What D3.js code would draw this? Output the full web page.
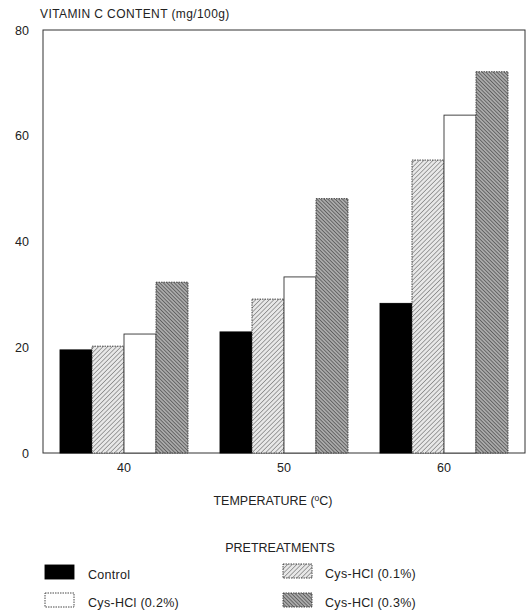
<!DOCTYPE html>
<html>
<head>
<meta charset="utf-8">
<script src="https://cdn.jsdelivr.net/npm/d3@7"></script>
<style>
body { margin: 0; background: #fff; }
text { font-family: "Liberation Sans", Arial, sans-serif; fill: #222; }
</style>
</head>
<body>
<svg id="chart" width="530" height="611"></svg>
<script>
const temperatures = ["40", "50", "60"];
const treatments = ["Control", "Cys-HCl (0.1%)", "Cys-HCl (0.2%)", "Cys-HCl (0.3%)"];
const control = [19.5, 22.9, 28.3];
const cys01 = [20.2, 29.1, 55.4];
const cys02 = [22.5, 33.3, 63.9];
const cys03 = [32.3, 48.1, 72.1];
const yTicks = [0, 20, 40, 60, 80];

const seriesValues = [control, cys01, cys02, cys03];

const svg = d3.select("#chart");
const mLeft = 43, mRight = 525, mTop = 30, mBottom = 453;
const FONT = "Liberation Sans, Arial, sans-serif";

const defs = svg.append("defs");
function hatch(id, bg, color, spacing, dir, sw) {
  const p = defs.append("pattern").attr("id", id)
    .attr("patternUnits", "userSpaceOnUse")
    .attr("width", spacing).attr("height", spacing)
    .attr("patternTransform", `rotate(${dir})`);
  p.append("rect").attr("width", spacing).attr("height", spacing).attr("fill", bg);
  p.append("line").attr("x1", 0).attr("y1", 0).attr("x2", 0).attr("y2", spacing)
    .attr("stroke", color).attr("stroke-width", sw);
}
hatch("h01", "#e8e8e8", "#555", 3.2, 45, 1.0);
hatch("h03", "#aaaaaa", "#333", 2.6, -45, 1.1);

const fills = ["#000", "url(#h01)", "#fff", "url(#h03)"];
const strokes = ["#000", "#333", "#333", "#333"];
const dashes = [null, "1.5,1", null, "1.5,1"];

const x0 = d3.scaleBand().domain(temperatures).range([44, 524]).paddingInner(0.2).paddingOuter(0.1);
const x1 = d3.scaleBand().domain(d3.range(treatments.length)).range([0, x0.bandwidth()]);
const y = d3.scaleLinear().domain([0, 80]).range([mBottom, mTop]);

// frame
svg.append("rect").attr("x", mLeft).attr("y", mTop).attr("width", mRight - mLeft).attr("height", mBottom - mTop)
  .attr("fill", "none").attr("stroke", "#333").attr("stroke-width", 1);

// bars
temperatures.forEach((t, gi) => {
  const g = svg.append("g").attr("transform", `translate(${x0(t)},0)`);
  g.selectAll("rect").data(seriesValues.map((s, si) => ({ si, v: s[gi] })))
    .join("rect")
    .attr("x", d => x1(d.si))
    .attr("y", d => y(d.v))
    .attr("width", x1.bandwidth())
    .attr("height", d => y(0) - y(d.v))
    .attr("fill", d => fills[d.si])
    .attr("stroke", d => strokes[d.si])
    .attr("stroke-width", 0.9)
    .attr("stroke-dasharray", d => dashes[d.si]);
});

// y axis
const yAxis = d3.axisLeft(y).tickValues(yTicks).tickSize(0).tickPadding(14);
const ya = svg.append("g").attr("transform", `translate(${mLeft},0)`).call(yAxis);
ya.select(".domain").remove();
ya.selectAll("text").style("font-family", FONT).style("font-size", "12.5px").attr("fill", "#333");

// x axis
const xAxis = d3.axisBottom(x0).tickSize(0).tickPadding(10);
const xa = svg.append("g").attr("transform", `translate(0,${mBottom})`).call(xAxis);
xa.select(".domain").remove();
xa.selectAll("text").style("font-family", FONT).style("font-size", "12.5px").attr("fill", "#333");

// titles
svg.append("text").attr("x", 40).attr("y", 18).style("font-size", "12px").style("letter-spacing", "0.4px")
  .text("VITAMIN C CONTENT (mg/100g)");
const xt = svg.append("text").attr("x", 273).attr("y", 505).attr("text-anchor", "middle")
  .style("font-size", "12.5px");
xt.append("tspan").text("TEMPERATURE (");
xt.append("tspan").attr("dy", -4).style("font-size", "8.5px").text("o");
xt.append("tspan").attr("dy", 4).text("C)");
svg.append("text").attr("x", 280).attr("y", 552).attr("text-anchor", "middle").style("font-size", "12.5px")
  .text("PRETREATMENTS");

// legend
const legendPos = [
  { si: 0, x: 45, y: 565 },
  { si: 1, x: 283, y: 564 },
  { si: 2, x: 45, y: 593 },
  { si: 3, x: 283, y: 593 }
];
const lg = svg.append("g").selectAll("g").data(legendPos).join("g")
  .attr("transform", d => `translate(${d.x},${d.y})`);
lg.append("rect").attr("width", 29).attr("height", 14)
  .attr("fill", d => fills[d.si]).attr("stroke", d => strokes[d.si]).attr("stroke-width", 0.9)
  .attr("stroke-dasharray", d => d.si === 2 ? "1.5,1" : dashes[d.si]);
lg.append("text").attr("x", d => d.si % 2 === 0 ? 43 : 42).attr("y", 13.5)
  .style("font-size", "12.5px").style("letter-spacing", "0.3px").text(d => treatments[d.si]);
</script>
</body>
</html>
